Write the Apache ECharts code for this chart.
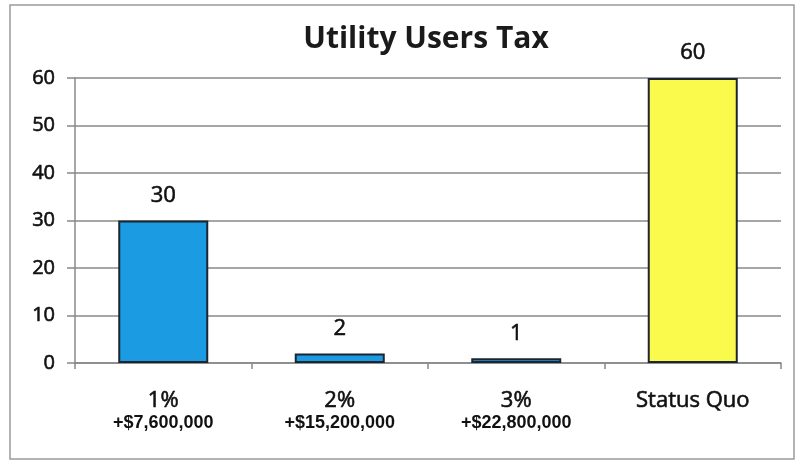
<!DOCTYPE html>
<html><head><meta charset="utf-8">
<script src="https://cdn.jsdelivr.net/npm/echarts@6/dist/echarts.min.js"></script>
<style>html,body{margin:0;padding:0;background:#fff}#c{width:799px;height:465px}</style>
</head><body><div id="c"></div>
<script>
const categories = ['1%', '2%', '3%', 'Status Quo'];
const subLabels = ['+$7,600,000', '+$15,200,000', '+$22,800,000', ''];
const values = [30, 2, 1, 60];
const barColors = ['#1b9be2', '#1b9be2', '#1b9be2', '#fafa4c'];
const yTicks = [0, 10, 20, 30, 40, 50, 60];

const heavy = {textBorderColor: '#111', textBorderWidth: 0.6};
const chart = echarts.init(document.getElementById('c'), null, {renderer: 'canvas'});
chart.setOption({
  animation: false,
  backgroundColor: '#fff',
  graphic: [{type: 'rect', shape: {x: 10, y: 5, width: 784, height: 454}, style: {fill: 'none', stroke: '#9a9a9a', lineWidth: 1.5}}],
  title: {text: 'Utility Users Tax', left: 421, top: 19, textAlign: 'center',
    textStyle: {fontFamily: 'Open Sans', fontWeight: 'bold', fontSize: 30, color: '#1a1a1a'}},
  grid: {left: 75, right: 18, top: 78, bottom: 102, containLabel: false},
  xAxis: {type: 'category', data: categories,
    axisLine: {show: true, lineStyle: {color: '#888', width: 1.5}},
    axisTick: {show: true, length: 6, lineStyle: {color: '#888', width: 1.5}},
    axisLabel: {margin: 26, color: '#111',
      formatter: (v, i) => subLabels[i] ? '{a|' + v + '}\n{b|' + subLabels[i] + '}' : '{a|' + v + '}',
      rich: {a: Object.assign({fontFamily: 'Open Sans', fontSize: 22, color: '#111', lineHeight: 24}, heavy),
             b: {fontFamily: 'Liberation Sans', fontSize: 18, fontWeight: 'bold', color: '#111', lineHeight: 20}}}},
  yAxis: {type: 'value', min: 0, max: 60, interval: 10,
    axisLine: {show: true, lineStyle: {color: '#888', width: 1.5}},
    axisTick: {show: true, length: 8, lineStyle: {color: '#888', width: 1.5}},
    splitLine: {lineStyle: {color: '#888', width: 1.5}},
    axisLabel: Object.assign({margin: 20, fontFamily: 'Open Sans', fontSize: 20, color: '#111',
      formatter: v => yTicks.includes(v) ? String(v) : ''}, heavy)},
  series: [{type: 'bar', barWidth: '51%',
    data: values.map((v, i) => ({value: v, itemStyle: {color: barColors[i]}})),
    itemStyle: {borderColor: '#1c2530', borderWidth: 2},
    label: Object.assign({show: true, position: 'top', distance: 14, fontFamily: 'Open Sans', fontSize: 22, color: '#111'}, heavy)}]
});
</script></body></html>
